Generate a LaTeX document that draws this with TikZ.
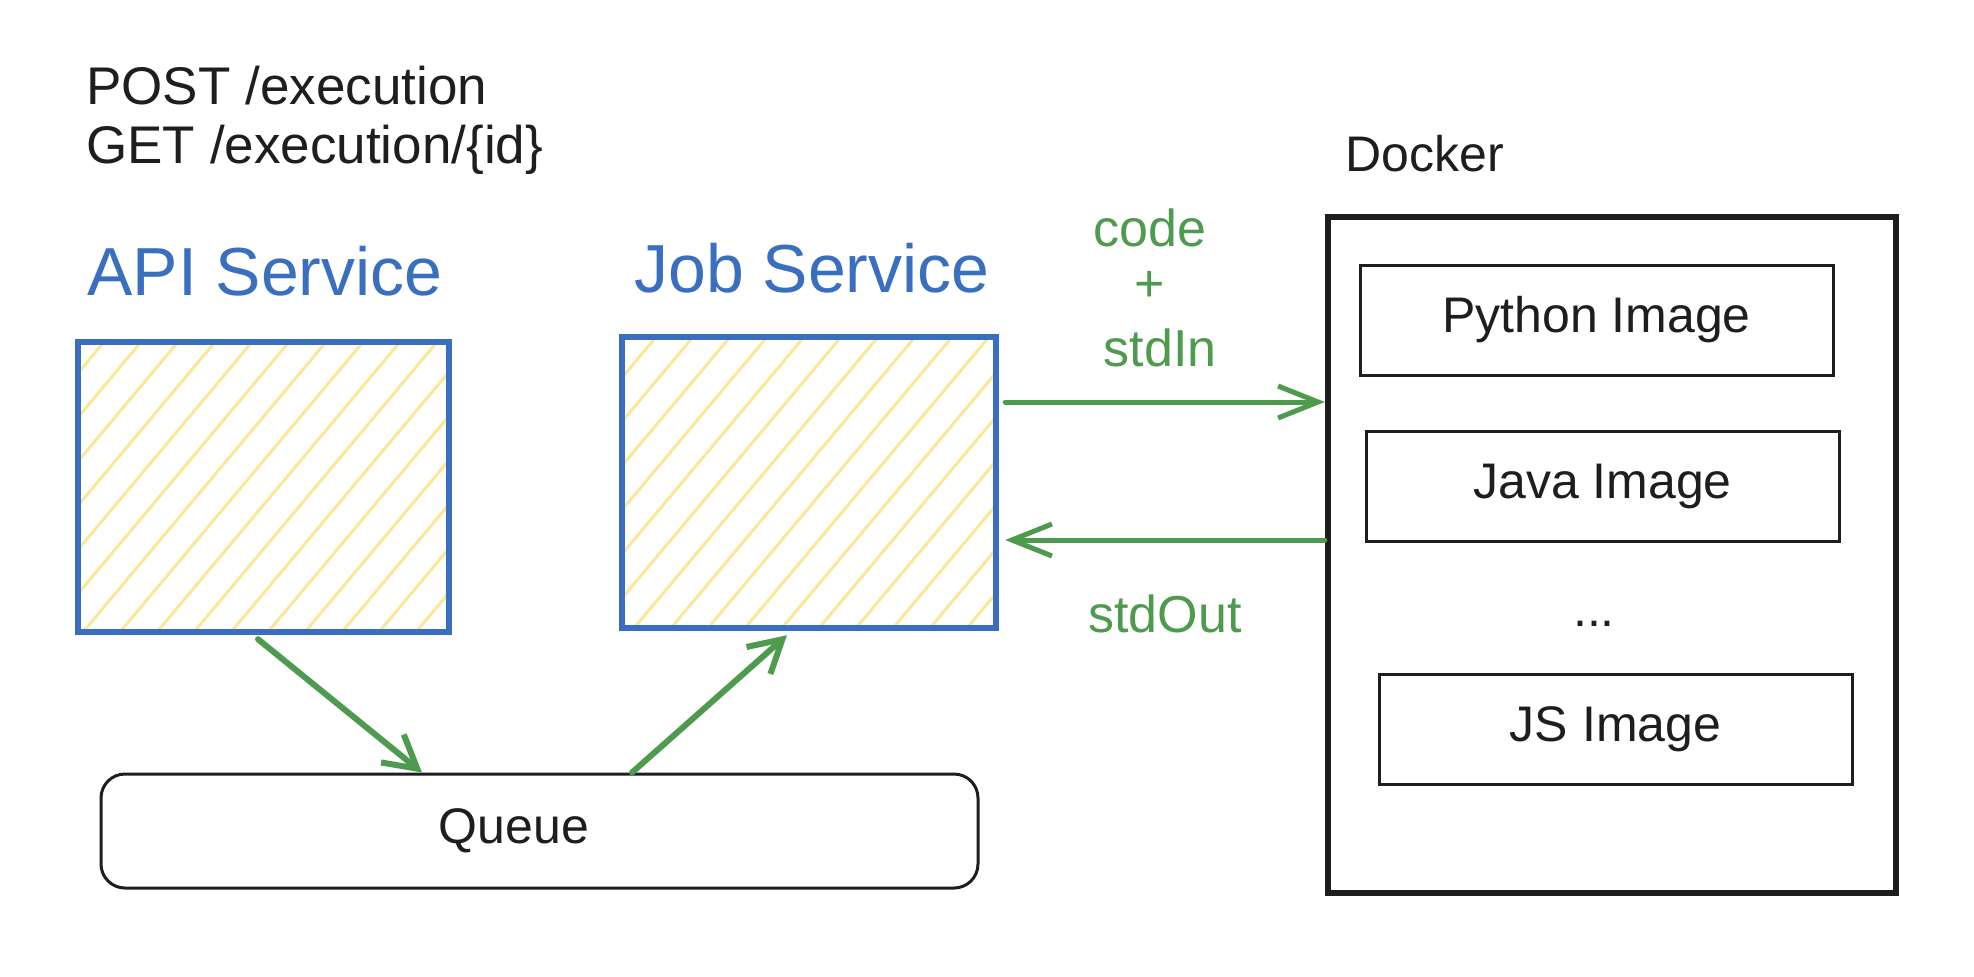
\documentclass[tikz,border=0pt]{standalone}
\usepackage{fontspec}
\setmainfont{Liberation Sans}
\usetikzlibrary{arrows.meta,calc}
\definecolor{exblue}{HTML}{3A6FBF}
\definecolor{exgreen}{HTML}{4E9A4E}
\definecolor{exyellow}{HTML}{FCE796}
\definecolor{exblack}{HTML}{1E1E1E}
\tikzset{
  imgbox/.style={draw=exblack, line width=1.5pt, minimum width=236.5pt, minimum height=55pt, font=\fontsize{25}{30}\selectfont, text=exblack},
  blacktxt/.style={font=\fontsize{25}{30}\selectfont, text=exblack, inner sep=0pt},
  reqtxt/.style={font=\fontsize{26.5}{30}\selectfont, text=exblack, inner sep=0pt},
  greentxt/.style={font=\fontsize{26}{30}\selectfont, text=exgreen, inner sep=0pt},
  bluetxt/.style={font=\fontsize{34}{38}\selectfont, text=exblue, inner sep=0pt},
  svcbox/.style={draw=exblue, line width=3.2pt, inner sep=0pt},
  garr/.style={draw=exgreen, line width=2.5pt, line cap=round, -{Straight Barb[length=20pt,width=16pt,line width=2.5pt]}},
  garrb/.style={draw=exgreen, line width=3pt, line cap=round, -{Straight Barb[length=16pt,width=18pt,line width=3pt]}},
  hatch/.style={draw=exyellow, line width=1.5pt}
}
\begin{document}
\begin{tikzpicture}[x=0.5pt,y=-0.5pt]
\useasboundingbox[fill=white] (0,0) rectangle (1974,976);

% hatching
\begin{scope}
  \clip (78,342) rectangle (449,632);
  \foreach \i in {-250,-213,...,460} {\draw[hatch] (\i,632) -- (\i+243,342);}
\end{scope}
\begin{scope}
  \clip (622,337) rectangle (996,628);
  \foreach \i in {375,412,...,1010} {\draw[hatch] (\i,628) -- (\i+244,337);}
\end{scope}

% boxes
\node[svcbox, minimum width=185.5pt, minimum height=145pt] (api) at (263.5,487) {};
\node[svcbox, minimum width=187pt, minimum height=145.5pt] (job) at (809,482.5) {};
\node[draw=exblack, line width=1.5pt, rounded corners=12pt, minimum width=438.5pt, minimum height=57pt] (queue) at (539.5,831) {};
\node[blacktxt] (queuelbl) at ([xshift=-12.75pt]queue.center) {Queue};
\node[draw=exblack, line width=3.2pt, minimum width=284pt, minimum height=338pt, inner sep=0pt] (docker) at (1612,555) {};
\node[imgbox] (python) at (1596.5,320) {Python Image};
\node[imgbox] (java) at (1602.5,486) {Java Image};
\node[blacktxt] (dots) at (1594,624) {...};
\node[imgbox] (js) at (1615.5,729) {JS Image};

% texts
\node[reqtxt, anchor=west] (post) at (86,86) {POST /execution};
\node[reqtxt, anchor=west] (get) at (86,150) {GET /execution/\{id\}};
\node[blacktxt, anchor=west] (dockerlbl) at (1345,154) {Docker};
\node[bluetxt] (apilbl) at (265,271) {API Service};
\node[bluetxt] (joblbl) at (812,268) {Job Service};
\node[greentxt] (code) at (1150,228) {code};
\node[greentxt] (plus) at (1150,286) {+};
\node[greentxt] (stdin) at (1160,348) {stdIn};
\node[greentxt] (stdout) at (1165,614) {stdOut};

% connectors
\coordinate (yin) at (0,402);
\coordinate (yout) at (0,540);
\coordinate (q1) at (422,0);
\coordinate (q2) at (632,0);
\coordinate (a1) at (258,0);
\coordinate (j1) at (787,0);
\draw[garr] ([xshift=3pt]job.east |- yin) -- (docker.west |- yin);
\draw[garr] (docker.west |- yout) -- ([xshift=3pt]job.east |- yout);
\draw[garrb] ([yshift=-2pt]api.south -| a1) -- (queue.north -| q1);
\draw[garrb] (queue.north -| q2) -- ([yshift=-2pt]job.south -| j1);
\end{tikzpicture}
\end{document}
